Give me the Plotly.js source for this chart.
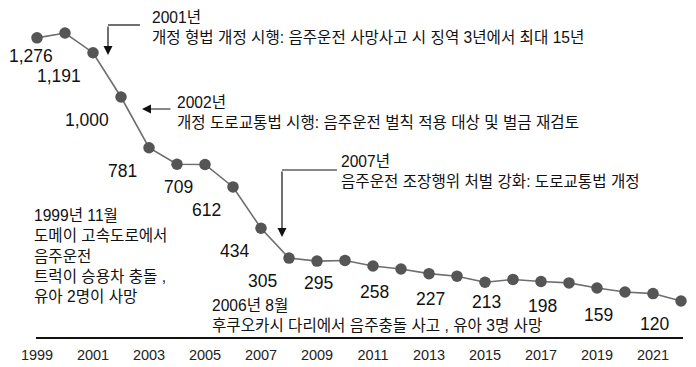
<!DOCTYPE html>
<html>
<head>
<meta charset="utf-8">
<script src="https://cdn.plot.ly/plotly-3.0.1.min.js"></script>
<style>html,body{margin:0;padding:0;background:#fff;}#chart{width:696px;height:367px;}</style>
</head>
<body>
<div id="chart"></div>
<script>
// ---- data ----
const years = [1999,2000,2001,2002,2003,2004,2005,2006,2007,2008,2009,2010,2011,2012,2013,2014,2015,2016,2017,2018,2019,2020,2021,2022];
const deaths = [1255,1276,1191,1000,781,710,709,612,434,305,292,295,271,258,238,227,201,213,204,198,176,159,152,120];
const labeledYears = [2000,2001,2002,2003,2005,2006,2007,2008,2010,2012,2014,2016,2018,2020,2022];
const tickYears = [1999,2001,2003,2005,2007,2009,2011,2013,2015,2017,2019,2021];
const noteTexts = [
  "2001년<br>개정 형법 개정 시행: 음주운전 사망사고 시 징역 3년에서 최대 15년",
  "2002년<br>개정 도로교통법 시행: 음주운전 벌칙 적용 대상 및 벌금 재검토",
  "2007년<br>음주운전 조장행위 처벌 강화: 도로교통법 개정",
  "1999년 11월<br>도메이 고속도로에서<br>음주운전<br>트럭이 승용차 충돌 ,<br>유아 2명이 사망",
  "2006년 8월<br>후쿠오카시 다리에서 음주충돌 사고 , 유아 3명 사망"
];

// ---- layout helpers (pixel -> paper) ----
const W = 696, H = 367;
const M = {l: 36, r: 13, t: 5, b: 30};
const PW = W - M.l - M.r, PH = H - M.t - M.b;
const px = x => (x - M.l) / PW;
const py = y => (H - M.b - y) / PH;

const FONT = "Liberation Sans, Arial, 'Noto Sans CJK KR', sans-serif";

const annotations = [];
// value labels
labeledYears.forEach(yr => {
  const v = deaths[years.indexOf(yr)];
  annotations.push({
    x: yr, y: v, xref: 'x', yref: 'y', text: v.toLocaleString('en-US'),
    showarrow: false, xanchor: 'right', yanchor: 'middle',
    xshift: -10, yshift: -23,
    font: {family: FONT, size: 17.5, color: '#111'}
  });
});
// note texts
const notePos = [[150, 28], [175, 112], [339, 171], [32, 256], [210, 315]];
noteTexts.forEach((t, i) => {
  annotations.push({
    x: px(notePos[i][0]), y: py(notePos[i][1]), xref: 'paper', yref: 'paper',
    text: t, showarrow: false, xanchor: 'left', yanchor: 'middle', align: 'left',
    font: {family: FONT, size: 15.6, color: '#111'}
  });
});
// arrows: [tipX, tipY, tailX, tailY]
const arrows = [[108, 55, 108, 25], [142, 109, 172, 109], [282, 237, 282, 170]];
arrows.forEach(a => {
  annotations.push({
    x: px(a[0]), y: py(a[1]), xref: 'paper', yref: 'paper', text: '',
    showarrow: true, arrowhead: 2, arrowsize: 1.5, arrowwidth: 1.2, arrowcolor: '#111',
    ax: a[2] - a[0], ay: a[3] - a[1], standoff: 0, startstandoff: 0
  });
});
// elbow horizontal segments
const segs = [[108, 25, 140, 25], [282, 170, 337, 170]];
const shapes = segs.map(s => ({
  type: 'line', xref: 'paper', yref: 'paper',
  x0: px(s[0]), y0: py(s[1]), x1: px(s[2]), y1: py(s[3]),
  line: {color: '#111', width: 1.2}
}));

const trace = {
  x: years, y: deaths, type: 'scatter', mode: 'lines+markers',
  line: {color: '#6e6e6e', width: 1.6},
  marker: {color: '#555', size: 11.5},
  cliponaxis: false, hoverinfo: 'skip'
};

const layout = {
  width: W, height: H, margin: M,
  paper_bgcolor: '#fff', plot_bgcolor: '#fff',
  showlegend: false,
  font: {family: FONT, color: '#111'},
  xaxis: {
    range: [1999 - 1/28, 2022 + 2/28], tickvals: tickYears, ticktext: tickYears.map(String),
    showgrid: false, zeroline: false, showline: true, linecolor: '#111', linewidth: 1.5,
    ticks: '', ticklabelstandoff: 4, tickfont: {family: FONT, size: 14.5, color: '#222'}
  },
  yaxis: {range: [-35.3, 1396.8], visible: false, showgrid: false, zeroline: false},
  annotations: annotations, shapes: shapes
};

Plotly.newPlot('chart', [trace], layout, {staticPlot: true, displayModeBar: false});
</script>
</body>
</html>
